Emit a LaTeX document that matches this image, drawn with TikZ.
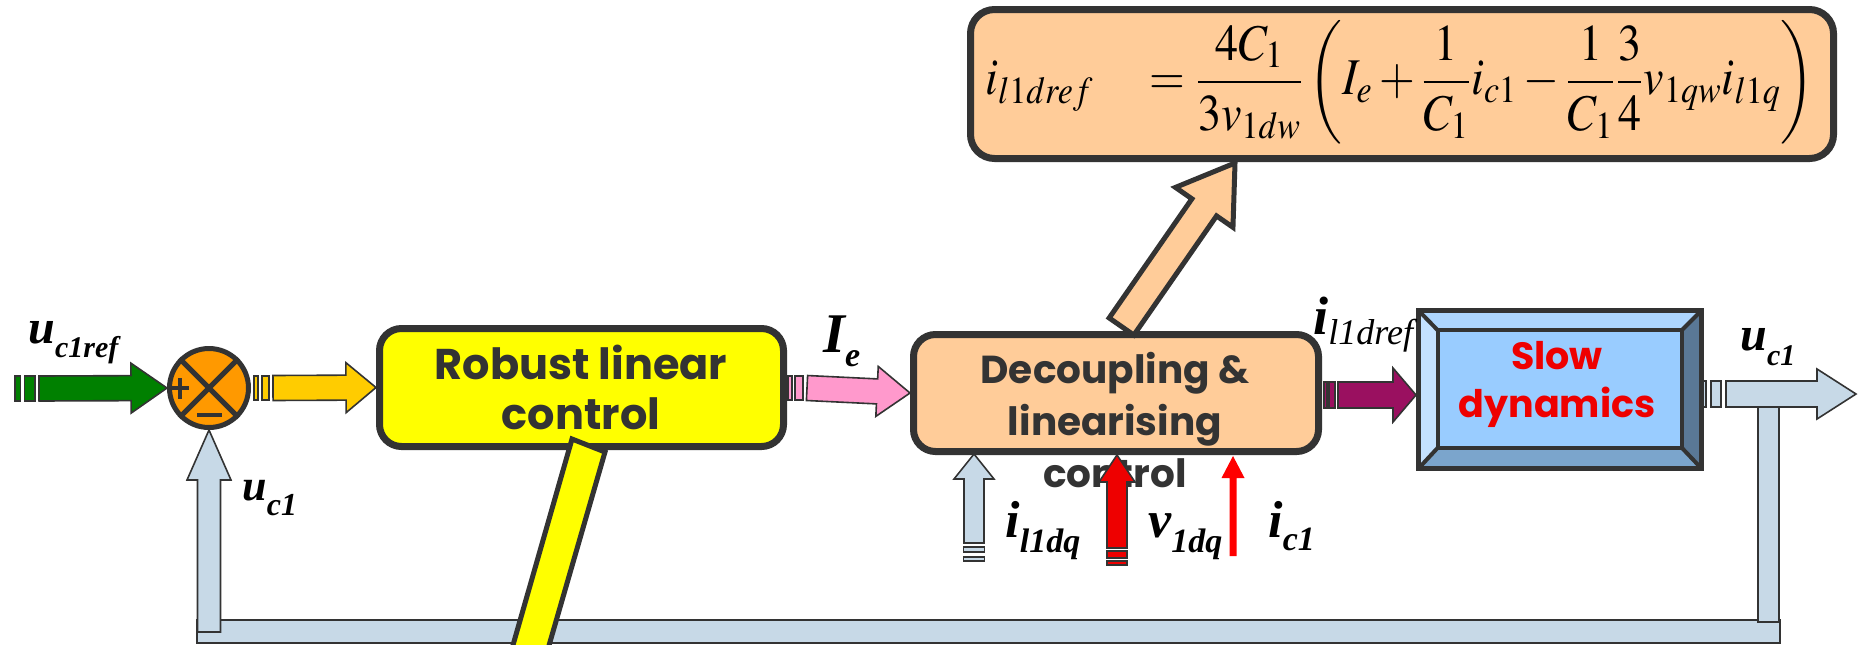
\documentclass[tikz,border=0pt]{standalone}
\usepackage{mathptmx}
\usepackage{fontspec}
\usetikzlibrary{calc}
\newfontfamily\popfont{Poppins}
\newfontfamily\serfont{Liberation Serif}
\definecolor{dk}{HTML}{333333}
\definecolor{grn}{HTML}{008000}
\definecolor{sumor}{HTML}{FF9900}
\definecolor{gold}{HTML}{FFCC00}
\definecolor{ylw}{HTML}{FFFF00}
\definecolor{pnk}{HTML}{FF99CC}
\definecolor{peach}{HTML}{FFCC99}
\definecolor{plum}{HTML}{9A1060}
\definecolor{lblue}{HTML}{C7D9E7}
\definecolor{rd}{HTML}{EE0000}
\definecolor{sky}{HTML}{99CCFF}
\definecolor{bvtop}{HTML}{ADD6FF}
\definecolor{bvleft}{HTML}{C4E1FF}
\definecolor{bvright}{HTML}{5A7896}
\definecolor{bvbot}{HTML}{7BA5CC}
% block arrow: #1 style, #2 tail coord, #3 tip coord, #4 shaft half width, #5 head half width, #6 head length
\newcommand{\barrow}[6]{%
  \coordinate (bA) at (#2); \coordinate (bB) at (#3);
  \coordinate (bC) at ($(bB)!#6!(bA)$);
  \path[#1] ($(bA)!#4!90:(bB)$) -- ($(bC)!#4!-90:(bA)$) -- ($(bC)!#5!-90:(bA)$) -- (bB)
    -- ($(bC)!#5!90:(bA)$) -- ($(bC)!#4!90:(bA)$) -- ($(bA)!#4!-90:(bB)$) -- cycle;}
\newcommand{\lbl}[4]{#1\raisebox{-#4}{\fontsize{#3}{#3}\selectfont #2}}
\begin{document}
\begin{tikzpicture}[x=0.5pt,y=-0.5pt,
  arr/.style={draw=dk, line width=0.8pt, line join=miter},
  stripe/.style={draw=dk, line width=0.6pt},
  bluebar/.style={fill=lblue, draw=dk, line width=0.9pt},
  rbox/.style={draw=dk, line width=3.5pt, rounded corners=11pt, inner sep=0pt},
  boxtxt/.style={text=dk, align=center, inner sep=0pt},
  lab/.style={inner sep=0pt, anchor=base west, font=\serfont\bfseries\itshape\fontsize{24}{24}\selectfont}]
\useasboundingbox (0,0) rectangle (1862,644);
\clip (0,0) rectangle (1862,644);

% feedback path
\filldraw[bluebar] (197,620) rectangle (1780,643);
\filldraw[bluebar] (1758,405) rectangle (1779,622);

% boxes
\node[rbox, fill=ylw, minimum width=202pt, minimum height=59pt] (rob) at (581.5,387.5) {};
\node[rbox, fill=peach, minimum width=202.5pt, minimum height=58.5pt] (dec) at (1116,393) {};
\node[rbox, fill=peach, rounded corners=12pt, minimum width=431.5pt, minimum height=74.5pt] (eqbox) at (1402,84) {};

% slow dynamics bevel box
\node[draw=none, minimum width=141.5pt, minimum height=79pt, inner sep=0pt] (slow) at (1560,389.5) {};
\node[draw=none, minimum width=122.25pt, minimum height=59pt, inner sep=0pt, outer sep=0pt] (slowin) at (1559.75,389) {};
\fill[bvtop] (slow.north west) -- (slow.north east) -- (slowin.north east) -- (slowin.north west) -- cycle;
\fill[bvbot] (slow.south west) -- (slow.south east) -- (slowin.south east) -- (slowin.south west) -- cycle;
\fill[bvleft] (slow.north west) -- (slowin.north west) -- (slowin.south west) -- (slow.south west) -- cycle;
\fill[bvright] (slow.north east) -- (slowin.north east) -- (slowin.south east) -- (slow.south east) -- cycle;
\filldraw[fill=sky, draw=dk, line width=2pt] (slowin.north west) rectangle (slowin.south east);
\draw[dk, line width=2pt] (slow.north west) -- (slowin.north west) (slow.north east) -- (slowin.north east)
  (slow.south west) -- (slowin.south west) (slow.south east) -- (slowin.south east);
\draw[dk, line width=2.5pt] (slow.north west) rectangle (slow.south east);

% summing junction
\node[circle, draw=dk, line width=2.5pt, fill=sumor, minimum size=39.5pt, inner sep=0pt] (sum) at (209,388) {};
\draw[dk, line width=2.5pt] (sum.45) -- (sum.225) (sum.135) -- (sum.-45);
\draw[dk, line width=1.6pt] (171,388) -- (189,388) (180,378) -- (180,399);
\draw[dk, line width=1.6pt] (197,415) -- (222,415);

% box texts
\node[boxtxt, font=\popfont\bfseries\fontsize{21.5}{25}\selectfont] (robT) at (581,387) {Robust linear\\control};
\node[boxtxt, font=\popfont\bfseries\fontsize{19.5}{26}\selectfont] (decT) at (1115,420) {Decoupling \&\\linearising\\control};
\node[boxtxt, text=rd, font=\popfont\bfseries\fontsize{19}{24}\selectfont] (slowT) at (1557,384) {Slow\\dynamics};

% equation
\node[inner sep=0pt, font=\fontsize{23}{23}\selectfont] (eq) at (1400,82)
  {\scalebox{1}[1.12]{$\displaystyle i_{l1dref}\quad= \frac{4C_1}{3v_{1dw}}\left(I_e+\frac{1}{C_1}i_{c1}-\frac{1}{C_1}\frac{3}{4}v_{1qw}i_{l1q}\right)$}};

% coordinates for arrows
\coordinate (gT) at (39,388.5);
\coordinate (yT) at (273,388);
\coordinate (pT) at (807,388);
\coordinate (mT) at (1338,395);
\coordinate (mH) at (1416,395);
\coordinate (oT) at (1726,394);
\coordinate (oH) at (1856,394);
\coordinate (fbT) at (209,632);
\coordinate (cT) at (1121.5,326.5);
\coordinate (cH) at (1235,163);
\coordinate (aT) at (974,543);
\coordinate (aH) at (974,454);
\coordinate (bT) at (1117,548);
\coordinate (bH) at (1117,455);
\coordinate (tT) at (1233,556);
\coordinate (tH) at (1233,456);

% horizontal arrows
\filldraw[fill=grn, stripe] (15,376) rectangle (20.5,401) (24.5,376) rectangle (35,401);
\barrow{fill=grn, arr}{gT}{sum.west}{6.25pt}{12.5pt}{18pt}
\filldraw[fill=gold, stripe] (254,376) rectangle (258,400) (262,376) rectangle (269,400);
\barrow{fill=gold, arr}{yT}{rob.west}{6.25pt}{12.5pt}{15pt}
\filldraw[fill=pnk, stripe] (788,376) rectangle (792,400) (795,376) rectangle (803,400);
\barrow{fill=pnk, arr}{pT}{dec.west}{6.25pt}{12.5pt}{16.5pt}
\filldraw[fill=plum, stripe] (1324,382) rectangle (1327,408) (1329,382) rectangle (1335,408);
\barrow{fill=plum, arr}{mT}{mH}{6.5pt}{13.5pt}{11.5pt}
\filldraw[fill=lblue, stripe] (1703,381) rectangle (1706,407) (1711,381) rectangle (1721,407);
\barrow{fill=lblue, arr}{oT}{oH}{6.5pt}{12.5pt}{19.5pt}

% feedback arrow to summing junction
\barrow{fill=lblue, arr}{fbT}{sum.south}{5.75pt}{11pt}{25pt}

% callout arrow to equation
\barrow{fill=peach, draw=dk, line width=2.5pt, line join=miter}{cT}{cH}{7.5pt}{17.5pt}{27pt}

% yellow slanted bar
\filldraw[fill=ylw, draw=dk, line width=2.5pt] (572,439) -- (605,452) -- (539,680) -- (503,680) -- cycle;

% input arrows below decoupling box
\filldraw[fill=lblue, stripe] (963.5,547) rectangle (984.5,552) (963.5,557) rectangle (984.5,561);
\barrow{fill=lblue, arr}{aT}{aH}{5pt}{10pt}{12.5pt}
\filldraw[fill=rd, stripe] (1107,551) rectangle (1127,558) (1107,561) rectangle (1127,565);
\barrow{fill=rd, arr}{bT}{bH}{5pt}{9pt}{13.5pt}
\barrow{fill=red}{tT}{tH}{1.75pt}{5.75pt}{11pt}

% labels
\node[lab] (l1) at (28,343) {\lbl{u}{c1ref}{15}{7pt}};
\node[lab, font=\serfont\bfseries\itshape\fontsize{22}{22}\selectfont] (l2) at (242,500) {\lbl{u}{c1}{16}{7.5pt}};
\node[lab, font=\serfont\bfseries\itshape\fontsize{28}{28}\selectfont] (l3) at (823,352) {\lbl{I}{e}{17}{7pt}};
\node[lab, font=\serfont\bfseries\itshape\fontsize{27}{27}\selectfont] (l4) at (1313,334) {\lbl{i}{\mdseries l1dref}{18}{5pt}};
\node[lab] (l5) at (1740,350) {\lbl{u}{c1}{15}{7.5pt}};
\node[lab, font=\serfont\bfseries\itshape\fontsize{26}{26}\selectfont] (l6) at (1005,537) {\lbl{i}{l1dq}{17}{7.5pt}};
\node[lab, font=\serfont\bfseries\itshape\fontsize{26}{26}\selectfont] (l7) at (1148,537) {\lbl{v}{1dq}{17}{7.5pt}};
\node[lab, font=\serfont\bfseries\itshape\fontsize{26}{26}\selectfont] (l8) at (1268,537) {\lbl{i}{c1}{17}{6.5pt}};
\end{tikzpicture}
\end{document}
